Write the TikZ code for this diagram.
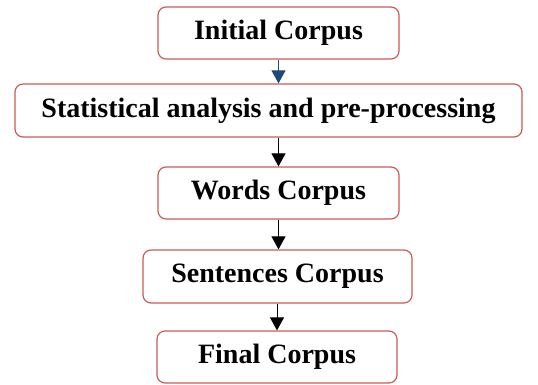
\documentclass[tikz,border=0pt]{standalone}
\usepackage{fontspec}
\setmainfont{Liberation Serif}
\usetikzlibrary{arrows.meta}
\definecolor{boxred}{RGB}{204,90,88}
\definecolor{arrblue}{RGB}{31,73,125}
\tikzset{
  stepbox/.style={draw=boxred, line width=1.2pt, rounded corners=8pt, fill=white,
    font=\fontsize{28}{32}\selectfont\bfseries, inner sep=0pt, anchor=center},
  flow/.style={line width=1pt, -{Triangle[length=13pt,width=14pt]}},
}
\begin{document}
\begin{tikzpicture}[x=1pt,y=1pt]
\useasboundingbox (0,0) rectangle (538,-385);
\node[stepbox, minimum width=241pt, minimum height=52pt] (a) at (278.5,-33) {Initial Corpus};
\node[stepbox, minimum width=507pt, minimum height=53pt] (b) at (268.5,-110.5) {Statistical analysis and pre-processing};
\node[stepbox, minimum width=241pt, minimum height=52pt] (c) at (278.5,-193) {Words Corpus};
\node[stepbox, minimum width=269pt, minimum height=53pt] (d) at (277.5,-276.5) {Sentences Corpus};
\node[stepbox, minimum width=240pt, minimum height=52pt] (e) at (277,-357) {Final Corpus};
\draw[flow, arrblue] (a.south) -- (a.south |- b.north);
\draw[flow] (c.north |- b.south) -- (c.north);
\draw[flow] (c.south) -- (c.south |- d.north);
\draw[flow] (e.north |- d.south) -- (e.north);
\end{tikzpicture}
\end{document}
